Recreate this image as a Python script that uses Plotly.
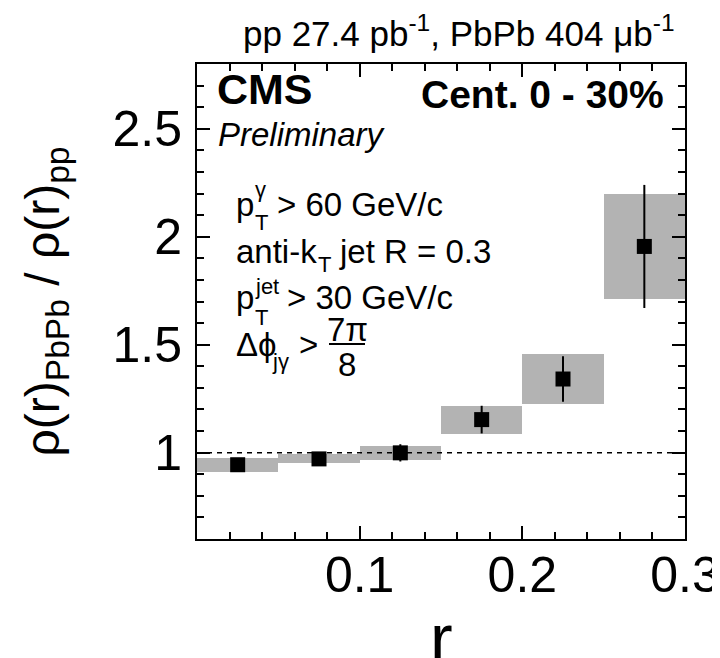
import plotly.graph_objects as go

# ---------------- data ----------------
r_centers = [0.025, 0.075, 0.125, 0.175, 0.225, 0.275]
bin_width = [0.05, 0.05, 0.05, 0.05, 0.05, 0.05]
ratio = [0.944, 0.971, 0.999, 1.153, 1.341, 1.955]
stat_err = [0.01, 0.01, 0.04, 0.064, 0.105, 0.285]
sys_err = [0.032, 0.021, 0.034, 0.065, 0.115, 0.245]

x_tickvals = [0.1, 0.2, 0.3]
x_ticktext = ["0.1", "0.2", "0.3"]
y_tickvals = [1.0, 1.5, 2.0, 2.5]
y_ticktext = ["1", "1.5", "2", "2.5"]
x_range = [0.0, 0.3]
y_range = [0.6, 2.8]
reference_level = 1.0

# ---------------- geometry (page pixels) ----------------
OFF = 8                      # default body margin of the html page
PAGE_W, PAGE_H = 720, 658
W, H = PAGE_W - OFF, PAGE_H - OFF
L, R, T, B = 197, 685, 64, 539   # plot frame in page pixels
PW, PH = R - L, B - T
FONT = "Liberation Sans, Arial, Helvetica, sans-serif"

fig = go.Figure()

# systematic boxes
fig.add_trace(go.Bar(
    x=r_centers,
    y=[2 * s for s in sys_err],
    base=[v - s for v, s in zip(ratio, sys_err)],
    width=bin_width,
    marker=dict(color="#b3b3b3", line=dict(width=0)),
    showlegend=False,
    hoverinfo="skip",
))

# reference dashed line at 1
fig.add_trace(go.Scatter(
    x=x_range, y=[reference_level, reference_level],
    mode="lines",
    line=dict(color="black", width=1.5, dash="5px,5px"),
    showlegend=False, hoverinfo="skip",
))

# points with statistical errors
fig.add_trace(go.Scatter(
    x=r_centers, y=ratio,
    mode="markers",
    marker=dict(symbol="square", size=15, color="black"),
    error_y=dict(type="data", array=stat_err, color="black", thickness=2, width=0),
    showlegend=False,
))


def px2paper(px, py):
    return (px - L) / PW, 1 - (py - T) / PH


def txt(px, base, text, size, anchor="left", bold=False, italic=False):
    """Place text with left/center/right edge at px and baseline near `base`."""
    xp, yp = px2paper(px, base - 0.33 * size)
    if bold:
        text = "<b>" + text + "</b>"
    if italic:
        text = "<i>" + text + "</i>"
    fig.add_annotation(
        x=xp, y=yp, xref="paper", yref="paper",
        text=text, showarrow=False,
        xanchor=anchor, yanchor="middle",
        font=dict(family=FONT, size=size, color="black"),
        borderpad=0,
    )


# header text above frame
txt(676, 43, "pp 27.4 pb<sup>-1</sup>, PbPb 404 μb<sup>-1</sup>", 35, anchor="right")

# CMS / Preliminary / centrality
txt(216, 103, "CMS", 43, bold=True)
txt(217, 145, "Preliminary", 33, italic=True)
txt(665, 107, "Cent. 0 - 30%", 39, anchor="right", bold=True)

# selection text lines
FS = 33
FSS = 22
# line 1: p_T^gamma > 60 GeV/c
txt(235, 215, "p", FS)
txt(254, 197, "γ", FSS)
txt(254, 230, "T", FSS)
txt(276, 215, "> 60 GeV/c", FS)
# line 2: anti-k_T jet R = 0.3
txt(235, 262, "anti-k", FS)
txt(317, 272, "T", FSS)
txt(338, 262, "jet R = 0.3", FS)
# line 3: p_T^jet > 30 GeV/c
txt(235, 308, "p", FS)
txt(254, 294, "jet", FSS)
txt(254, 325, "T", FSS)
txt(286, 308, "> 30 GeV/c", FS)
# line 4: delta phi_jgamma > 7pi/8
txt(235, 355, "Δϕ", FS)
txt(271, 369, "jγ", FSS)
txt(298, 355, ">", FS)
txt(347, 340, "7π", FS, anchor="center")
txt(347, 375, "8", FS, anchor="center")
xa, ya = px2paper(329, 344)
xb, _ = px2paper(365, 344)
fig.add_shape(type="line", xref="paper", yref="paper",
              x0=xa, x1=xb, y0=ya, y1=ya, line=dict(color="black", width=2))

# x-axis title "r" (sits low, partly cut by the page edge as in the original)
txt(441, 660, "r", 68, anchor="center")

axis_common = dict(
    showline=True, linecolor="black", linewidth=2, mirror="allticks",
    ticks="inside", tickcolor="black", tickwidth=1.5, ticklen=13,
    showgrid=False, zeroline=False, automargin=False,
    tickfont=dict(family=FONT, size=50, color="black"),
)

fig.update_xaxes(
    range=x_range, tickmode="array", tickvals=x_tickvals, ticktext=x_ticktext,
    minor=dict(tickmode="linear", tick0=0, dtick=0.02, ticks="inside", ticklen=7,
               tickcolor="black", tickwidth=1.5, showgrid=False),
    ticklabelstandoff=-9,
    **axis_common,
)
fig.update_yaxes(
    range=y_range, tickmode="array", tickvals=y_tickvals, ticktext=y_ticktext,
    minor=dict(tickmode="linear", tick0=0, dtick=0.1, ticks="inside", ticklen=7,
               tickcolor="black", tickwidth=1.5, showgrid=False),
    title=dict(text="ρ(r)<sub>PbPb</sub> / ρ(r)<sub>pp</sub>",
               font=dict(family=FONT, size=48, color="black"), standoff=38),
    ticklabelstandoff=3,
    **axis_common,
)

fig.update_layout(
    width=W, height=H,
    margin=dict(l=L - OFF, r=PAGE_W - R, t=T - OFF, b=PAGE_H - B, pad=0, autoexpand=False),
    paper_bgcolor="white", plot_bgcolor="white",
    bargap=0, showlegend=False,
    font=dict(family=FONT, color="black"),
)

fig.write_html("out.html")
